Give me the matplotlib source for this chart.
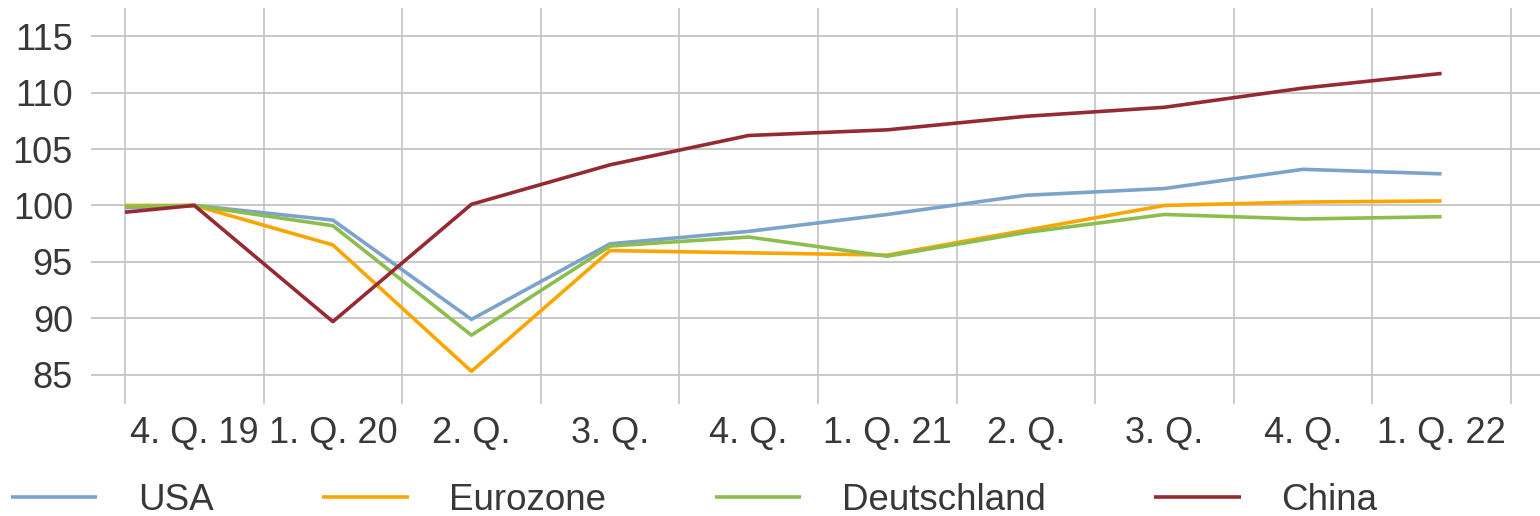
import numpy as np
import matplotlib.pyplot as plt

plt.rcParams['font.family'] = ['Liberation Sans', 'DejaVu Sans']

quartale = ["4. Q. 19", "1. Q. 20", "2. Q.", "3. Q.", "4. Q.",
            "1. Q. 21", "2. Q.", "3. Q.", "4. Q.", "1. Q. 22"]
# erster Wert liegt am linken Rand (Vorquartal), danach je Quartal
x_pos = [-0.5] + list(range(len(quartale)))

usa = [99.8, 100.0, 98.7, 89.9, 96.6, 97.7, 99.2, 100.9, 101.5, 103.2, 102.8]
eurozone = [100.0, 100.0, 96.5, 85.3, 96.0, 95.8, 95.6, 97.8, 100.0, 100.3, 100.4]
deutschland = [99.9, 100.0, 98.2, 88.5, 96.4, 97.2, 95.5, 97.6, 99.2, 98.8, 99.0]
china = [99.4, 100.0, 89.7, 100.1, 103.6, 106.2, 106.7, 107.9, 108.7, 110.4, 111.7]

serien = [("USA", usa, "#7ba3cc"),
          ("Eurozone", eurozone, "#fba600"),
          ("Deutschland", deutschland, "#8cbd4d"),
          ("China", china, "#962a33")]

fig = plt.figure(figsize=(15.4, 5.16), dpi=100)
ax = fig.add_axes([91 / 1540, 112 / 516, 1 - 91 / 1540, 396 / 516])

for name, werte, farbe in serien:
    ax.plot(x_pos, werte, color=farbe, lw=2.6, label=name, solid_capstyle='butt')

ax.set_xlim(-0.745, 9.71)
ax.set_ylim(82.4, 117.5)
ax.set_yticks([85, 90, 95, 100, 105, 110, 115])
ax.set_xticks(range(len(quartale)))
ax.set_xticklabels(quartale)
ax.set_xticks(np.arange(-0.5, 10, 1), minor=True)

ax.grid(axis='y', which='major', color='#c4c4c4', lw=1.3)
ax.grid(axis='x', which='minor', color='#c8c8c8', lw=1.3)
ax.set_axisbelow(True)
for s in ax.spines.values():
    s.set_visible(False)
ax.tick_params(axis='both', which='both', length=0, labelsize=26, labelcolor='#383838')
ax.tick_params(axis='y', pad=13)
ax.tick_params(axis='x', pad=9)

fig.legend(loc='center left', bbox_to_anchor=(11 / 1540, 16 / 516), ncol=4,
           frameon=False, fontsize=26.5, handlelength=2.35, handletextpad=1.1,
           columnspacing=2.95, borderpad=0, borderaxespad=0, labelcolor='#383838')

fig.savefig("out.png", dpi=100)
